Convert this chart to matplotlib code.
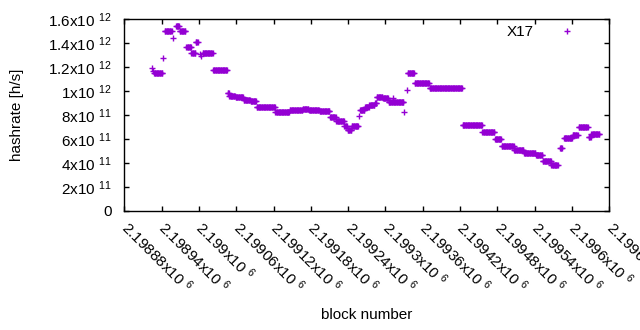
import numpy as np
import matplotlib
matplotlib.use("Agg")
import matplotlib.pyplot as plt

plt.rcParams['font.family'] = ['Liberation Sans', 'DejaVu Sans']
plt.rcParams['mathtext.fontset'] = 'custom'
plt.rcParams['mathtext.rm'] = 'Liberation Sans'
plt.rcParams['mathtext.it'] = 'Liberation Sans'
plt.rcParams['mathtext.bf'] = 'Liberation Sans'

# Run-length encoded readings: blocks run_start..run_end share run_value (x1e12 h/s)
run_start = [2198924, 2198926, 2198928, 2198943, 2198945, 2198959, 2198963, 2198969,
             2198980, 2198988, 2198995, 2199001, 2199004, 2199006, 2199023, 2199046,
             2199049, 2199059, 2199072, 2199083, 2199093, 2199123, 2199146, 2199167,
             2199177, 2199194, 2199211, 2199221, 2199234, 2199239, 2199246, 2199257,
             2199259, 2199267, 2199274, 2199283, 2199286, 2199296, 2199305, 2199312,
             2199330, 2199334, 2199336, 2199347, 2199371, 2199424, 2199456, 2199476,
             2199487, 2199507, 2199523, 2199542, 2199553, 2199567, 2199581, 2199587,
             2199601, 2199611, 2199627, 2199631]
run_end = [2198924, 2198926, 2198941, 2198943, 2198956, 2198959, 2198968, 2198978,
           2198987, 2198994, 2198998, 2199001, 2199004, 2199022, 2199045, 2199048,
           2199058, 2199071, 2199082, 2199092, 2199122, 2199145, 2199166, 2199176,
           2199193, 2199210, 2199220, 2199233, 2199238, 2199245, 2199256, 2199257,
           2199266, 2199273, 2199282, 2199285, 2199295, 2199304, 2199329, 2199312,
           2199330, 2199334, 2199346, 2199370, 2199423, 2199455, 2199475, 2199486,
           2199506, 2199522, 2199541, 2199552, 2199566, 2199577, 2199584, 2199600,
           2199609, 2199625, 2199630, 2199644]
run_value = [1.19, 1.17, 1.15, 1.28, 1.50, 1.447, 1.547, 1.504,
             1.372, 1.317, 1.407, 1.31, 1.29, 1.317, 1.18, 0.985,
             0.96, 0.947, 0.925, 0.914, 0.864, 0.823, 0.844, 0.85,
             0.839, 0.83, 0.78, 0.75, 0.708, 0.675, 0.708, 0.79,
             0.839, 0.867, 0.883, 0.90, 0.953, 0.939, 0.906, 0.94,
             0.828, 1.008, 1.154, 1.07, 1.022, 0.713, 0.655, 0.60,
             0.541, 0.508, 0.481, 0.464, 0.412, 0.383, 0.523, 0.606,
             0.63, 0.697, 0.615, 0.64]

series_name = "X17"
x_ticks = list(range(2198880, 2199661, 60))
y_ticks = [0, 2e11, 4e11, 6e11, 8e11, 1e12, 1.2e12, 1.4e12, 1.6e12]

blocks = []
rates = []
for s, e, v in zip(run_start, run_end, run_value):
    for b in range(s, e + 1):
        blocks.append(b)
        rates.append(v * 1e12)

W, H = 640, 330
fig = plt.figure(figsize=(W / 100, H / 100), dpi=100)
L, R, T, B = 124.3, 609.3, 19.3, 210.7
ax = fig.add_axes([L / W, (H - B) / H, (R - L) / W, (B - T) / H])

color = '#9400d3'
ax.plot(blocks, rates, linestyle='none', marker='+', markersize=5,
        markeredgewidth=1.0, color=color, label=series_name)

ax.set_xlim(2198880, 2199660)
ax.set_ylim(0, 1.6e12)


def ylab(v):
    if v == 0:
        return "0"
    e = int(np.floor(np.log10(v)))
    m = v / 10 ** e
    ms = f"{m:g}"
    return ms + "x10 $^{" + str(e) + "}$"


def xlab(v):
    return f"{v / 1e6:g}" + "x10 $^{6}$"


ax.set_yticks(y_ticks)
ax.set_yticklabels([ylab(v) for v in y_ticks])
ax.set_xticks(x_ticks)
ax.set_xticklabels([xlab(v) for v in x_ticks])
plt.setp(ax.get_xticklabels(), rotation=-45, ha='left', va='center',
         rotation_mode='anchor')

ax.tick_params(direction='in', length=3.5, width=1, top=True, right=True,
               labelsize=11, colors='black')
ax.tick_params(axis='y', pad=9)
ax.tick_params(axis='x', pad=10)
for sp in ax.spines.values():
    sp.set_linewidth(1)
    sp.set_color('black')

ax.set_ylabel("hashrate [h/s]", fontsize=11)
ax.yaxis.set_label_coords((24 - L) / (R - L), 0.5)
ax.set_xlabel("block number", fontsize=11)
ax.xaxis.set_label_coords(0.5, -(308 - B) / (B - T))

leg = ax.legend(loc='center right', bbox_to_anchor=(0.944, 0.932), frameon=False,
                markerfirst=False, handlelength=2, handletextpad=1.2,
                borderpad=0, borderaxespad=0, fontsize=11)

fig.savefig("out.png", dpi=100)
